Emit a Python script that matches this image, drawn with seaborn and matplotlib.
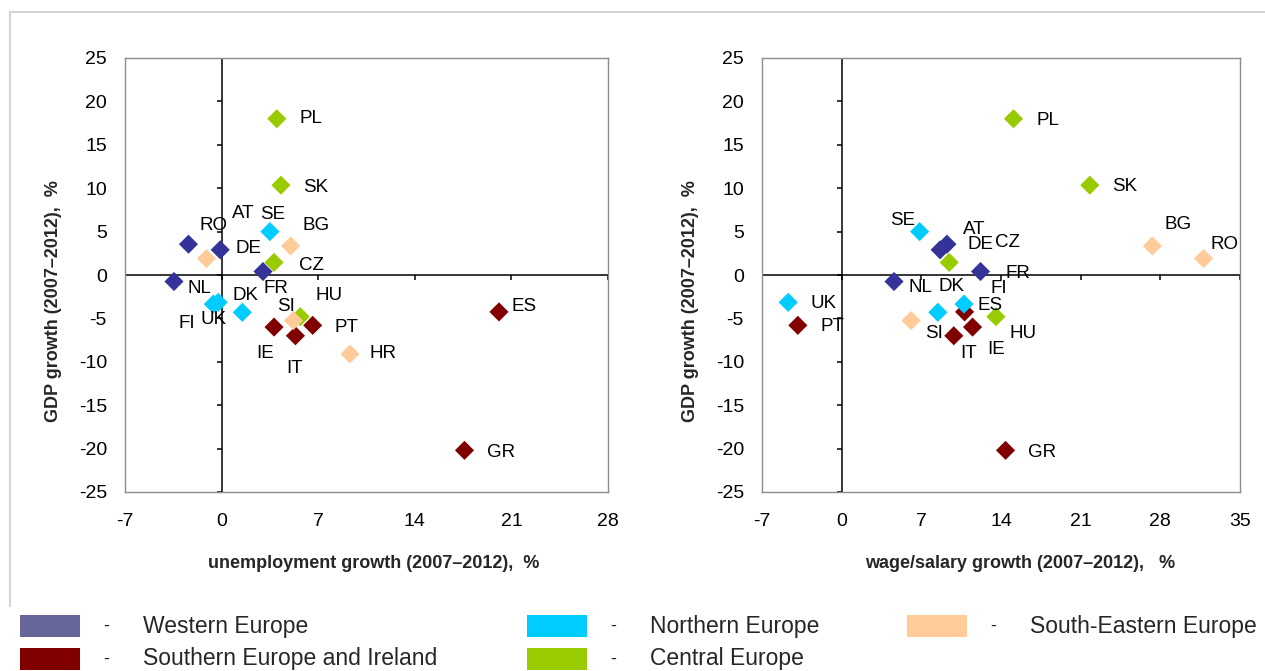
import numpy as np
import pandas as pd
import matplotlib
matplotlib.use("Agg")
import matplotlib.pyplot as plt
import seaborn as sns
from matplotlib.patches import Rectangle
from matplotlib.lines import Line2D

# ---------- data ----------
countries = ["AT", "DE", "FR", "NL",
             "PL", "SK", "CZ", "HU",
             "ES", "GR", "PT", "IE", "IT",
             "SE", "DK", "FI", "UK",
             "BG", "RO", "SI", "HR"]
regions = ["Western Europe"] * 4 + ["Central Europe"] * 4 + \
          ["Southern Europe and Ireland"] * 5 + ["Northern Europe"] * 4 + \
          ["South-Eastern Europe"] * 4
unemp_growth = [-2.4, -0.1, 3.0, -3.45,
                4.0, 4.3, 3.8, 5.7,
                20.1, 17.6, 6.6, 3.8, 5.35,
                3.5, 1.5, -0.6, -0.25,
                5.0, -1.1, 5.2, 9.3]
wage_growth = [9.25, 8.65, 12.2, 4.6,
               15.1, 21.8, 9.45, 13.55,
               10.8, 14.4, -3.85, 11.5, 9.85,
               6.85, 8.45, 10.75, -4.7,
               27.3, 31.8, 6.1, np.nan]
gdp_growth = [3.55, 2.9, 0.4, -0.75,
              18.0, 10.35, 1.45, -4.8,
              -4.25, -20.2, -5.8, -6.0, -7.0,
              5.0, -4.3, -3.35, -3.15,
              3.35, 1.9, -5.25, -9.1]

region_order = ["Western Europe", "Northern Europe", "South-Eastern Europe",
                "Southern Europe and Ireland", "Central Europe"]
draw_order = ["Western Europe", "Central Europe", "Southern Europe and Ireland",
              "Northern Europe", "South-Eastern Europe"]
point_colors = {"Western Europe": "#333399", "Northern Europe": "#00CCFF",
                "South-Eastern Europe": "#FFCC99",
                "Southern Europe and Ireland": "#800000", "Central Europe": "#99CC00"}
legend_colors = dict(point_colors, **{"Western Europe": "#666699"})

y_ticks = [-25, -20, -15, -10, -5, 0, 5, 10, 15, 20, 25]
x_ticks_left = [-7, 0, 7, 14, 21, 28]
x_ticks_right = [-7, 0, 7, 14, 21, 28, 35]

# label offsets in pixels (dx right, dy up)
offs_left = {"AT": (55, 31), "DE": (28, 1), "FR": (13, -17), "NL": (25, -7),
             "PL": (34, 0), "SK": (35, -2), "CZ": (37, -3), "HU": (29, 21),
             "ES": (25, 5), "GR": (37, -2), "PT": (34, -2), "IE": (-9, -26),
             "IT": (-1, -33), "SE": (3, 17), "DK": (3, 17), "FI": (-27, -19),
             "UK": (-5, -17), "BG": (25, 20), "RO": (7, 33), "SI": (-7, 14),
             "HR": (33, 0)}
offs_right = {"AT": (27, 15), "DE": (40, 5), "FR": (37, -2), "NL": (26, -6),
              "PL": (34, -2), "SK": (35, -1), "CZ": (58, 20), "HU": (27, -17),
              "ES": (25, 6), "GR": (37, -2), "PT": (35, -1), "IE": (24, -22),
              "IT": (15, -18), "SE": (-17, 11), "DK": (14, 26), "FI": (35, 16),
              "UK": (35, -1), "BG": (26, 21), "RO": (21, 14), "SI": (23, -13)}

df = pd.DataFrame({"country": countries, "region": regions,
                   "unemp": unemp_growth, "wage": wage_growth, "gdp": gdp_growth})
df["region"] = pd.Categorical(df["region"], categories=draw_order, ordered=True)
df = df.sort_values("region", kind="stable")

# ---------- style ----------
sns.set_theme(style="white")
plt.rcParams["font.family"] = ["Liberation Sans", "DejaVu Sans"]
plt.rcParams["axes.unicode_minus"] = False

W, H = 1265, 671
fig = plt.figure(figsize=(W / 100, H / 100), dpi=100)

def px_axes(x0, x1, y0, y1):
    return fig.add_axes([x0 / W, 1 - y1 / H, (x1 - x0) / W, (y1 - y0) / H])

ax1 = px_axes(125, 608, 58, 492)
ax2 = px_axes(762, 1240, 58, 492)

def draw_panel(ax, xcol, xticks, offs, xlabel, xlab_pos, ylab_x):
    sub = df.dropna(subset=[xcol])
    ax.axhline(0, color="black", lw=1.1, zorder=1)
    ax.axvline(0, color="black", lw=1.1, zorder=1)
    sns.scatterplot(data=sub, x=xcol, y="gdp", hue="region", hue_order=draw_order,
                    palette=point_colors, marker="D", s=95, linewidth=0,
                    legend=False, ax=ax, zorder=3)
    ax.set_xlim(xticks[0], xticks[-1])
    ax.set_ylim(y_ticks[0], y_ticks[-1])
    ax.set_xticks(xticks)
    ax.set_yticks(y_ticks)
    ax.tick_params(length=0, labelsize=14, colors="black")
    ax.tick_params(axis="x", pad=15)
    ax.tick_params(axis="y", pad=13)
    for sp in ax.spines.values():
        sp.set_color("#8c8c8c")
        sp.set_linewidth(1.0)
    # small tick marks on the zero axes
    ylen = 0.55
    xlen = 0.32 * (xticks[-1] - xticks[0]) / 35
    ax.vlines(xticks, -ylen, 0, color="black", lw=1.1, zorder=1)
    ax.hlines(y_ticks, -xlen, 0, color="black", lw=1.1, zorder=1)
    for _, r in sub.iterrows():
        dx, dy = offs[r["country"]]
        ax.annotate(r["country"], (r[xcol], r["gdp"]), xytext=(dx, dy),
                    textcoords="offset pixels", ha="center", va="center",
                    fontsize=13.5, color="black", zorder=4)
    ax.set_xlabel(xlabel, fontsize=13, fontweight="bold")
    ax.xaxis.set_label_coords(xlab_pos, -0.146)
    ax.set_ylabel("GDP growth (2007\u20132012),  %", fontsize=13, fontweight="bold")
    ax.yaxis.set_label_coords(ylab_x, 0.44)

draw_panel(ax1, "unemp", x_ticks_left, offs_left,
           "unemployment growth (2007\u20132012),  %", 0.515, -0.13)
draw_panel(ax2, "wage", x_ticks_right, offs_right,
           "wage/salary growth (2007\u20132012),   %", 0.54, -0.132)

# outer light frame
fig.add_artist(Line2D([10 / W, 1], [1 - 12 / H, 1 - 12 / H], color="#d4d4d4", lw=1.5))
fig.add_artist(Line2D([10 / W, 10 / W], [1 - 12 / H, 1 - 606 / H], color="#d4d4d4", lw=1.5))

# legend
legend_pos = {"Western Europe": (20, 626), "Northern Europe": (527, 626),
              "South-Eastern Europe": (907, 626),
              "Southern Europe and Ireland": (20, 659), "Central Europe": (527, 659)}
for reg in region_order:
    x, y = legend_pos[reg]
    fig.add_artist(Rectangle((x / W, 1 - (y + 11) / H), 60 / W, 22 / H,
                             transform=fig.transFigure, color=legend_colors[reg], lw=0))
    fig.text((x + 86) / W, 1 - y / H, "-", fontsize=13, va="center", ha="center")
    fig.text((x + 123) / W, 1 - y / H, reg, fontsize=16.5, va="center", ha="left")

fig.savefig("out.png", dpi=100)
